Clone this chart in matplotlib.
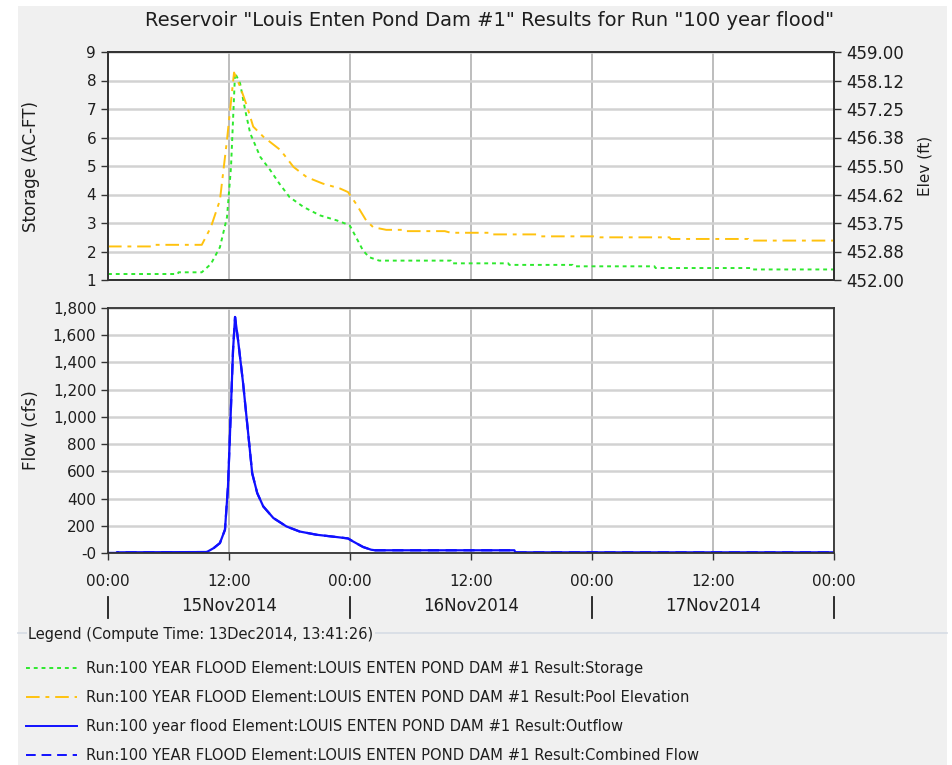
import matplotlib
matplotlib.use("Agg")
import matplotlib.pyplot as plt
from matplotlib.lines import Line2D
from matplotlib.patches import Rectangle
import numpy as np

plt.rcParams['font.family'] = 'DejaVu Sans'

W, H = 952, 765

# hours after 15Nov2014 00:00
storage_hr = [0, 6.9, 7.0, 9.3, 10.2, 11.1, 11.8, 12.2, 12.6, 13.1, 13.6, 14.1, 15.1, 16.1,
              17.0, 18.0, 19.4, 21.0, 22.7, 23.6, 24.0, 24.6, 25.3, 25.9, 26.9, 34.0, 34.1,
              39.7, 39.8, 46.1, 46.2, 54.2, 54.3, 63.8, 63.9, 72]
storage_ac = [1.21, 1.21, 1.27, 1.27, 1.56, 2.15, 3.2, 4.97, 8.26, 7.9, 6.97, 6.15, 5.32, 4.85,
              4.38, 3.91, 3.56, 3.27, 3.09, 2.97, 2.9, 2.5, 2.03, 1.8, 1.68, 1.68, 1.585,
              1.585, 1.53, 1.53, 1.48, 1.48, 1.42, 1.42, 1.37, 1.37]

pool_hr = [0, 4.5, 4.6, 9.3, 10.2, 11.1, 11.8, 12.5, 13.1, 13.8, 14.4, 15.4, 17.1, 18.4, 19.7,
           21.3, 23.0, 23.8, 24.6, 25.6, 26.3, 27.6, 29.2, 29.3, 33.4, 34.0, 37.9, 38.0,
           42.5, 42.8, 48.2, 48.8, 55.7, 55.8, 63.5, 63.6, 72]
pool_ft = [453.03, 453.03, 453.08, 453.08, 453.62, 454.45, 456.30, 458.37, 457.94, 457.32,
           456.71, 456.40, 455.99, 455.47, 455.16, 454.96, 454.81, 454.70, 454.34, 453.83,
           453.62, 453.54, 453.54, 453.50, 453.50, 453.45, 453.45, 453.40, 453.40, 453.34,
           453.34, 453.31, 453.31, 453.26, 453.26, 453.21, 453.21]

outflow_hr = [0, 0.8, 0.9, 9.8, 10.5, 11.1, 11.6, 11.9, 12.1, 12.4, 12.6, 12.9, 13.4, 13.9,
              14.3, 14.8, 15.4, 16.4, 17.7, 19.0, 20.7, 22.7, 23.8, 24.3, 25.3, 26.1, 26.5,
              40.3, 40.4, 72]
outflow_cfs = [0, 0, 5, 7, 37, 73, 171, 488, 880, 1490, 1734, 1563, 1246, 880,
               586, 440, 342, 257, 195, 158, 134, 117, 107, 85, 44, 24, 20,
               20, 5, 5]
combined_cfs = outflow_cfs

storage_ticks = list(range(1, 10))
elev_ticks = np.linspace(452.0, 459.0, 9)
flow_ticks = list(range(0, 2000, 200))
flow_labels = ['-0'] + ['{:,}'.format(v) for v in flow_ticks[1:]]
time_ticks = list(range(0, 73, 12))
time_labels = ['00:00' if t % 24 == 0 else '12:00' for t in time_ticks]
day_labels = ['15Nov2014', '16Nov2014', '17Nov2014']

legend_labels = [
    'Run:100 YEAR FLOOD Element:LOUIS ENTEN POND DAM #1 Result:Storage',
    'Run:100 YEAR FLOOD Element:LOUIS ENTEN POND DAM #1 Result:Pool Elevation',
    'Run:100 year flood Element:LOUIS ENTEN POND DAM #1 Result:Outflow',
    'Run:100 YEAR FLOOD Element:LOUIS ENTEN POND DAM #1 Result:Combined Flow',
]

GREEN = '#2ee82e'
GOLD = '#ffc20e'
BLUE = '#1010ff'
BG = '#f0f0f0'
INK = '#1e1e1e'


def fx(px):
    return px / W


def fy(py):
    return 1 - py / H


fig = plt.figure(figsize=(W / 100, H / 100), dpi=100)
fig.patch.set_facecolor('white')
fig.add_artist(Rectangle((fx(18), 0), fx(947) - fx(18), fy(6), transform=fig.transFigure,
                         facecolor=BG, edgecolor='none', zorder=-10))

x0, x1 = 108, 834
ax1 = fig.add_axes([fx(x0), fy(280), fx(x1) - fx(x0), fy(52) - fy(280)])
ax2 = fig.add_axes([fx(x0), fy(553), fx(x1) - fx(x0), fy(308) - fy(553)])


def style(ax):
    ax.set_xlim(0, 72)
    ax.set_xticks(time_ticks)
    for s in ax.spines.values():
        s.set_color('#333333')
        s.set_linewidth(1.3)
    ax.grid(True, axis='y', color='#d2d2d2', linewidth=1.8)
    ax.grid(True, axis='x', color='#bdbdbd', linewidth=1.4)
    ax.set_axisbelow(True)
    ax.tick_params(direction='out', length=5, width=1, colors='#333333', labelsize=11,
                   labelcolor=INK)


style(ax1)
ax1.set_ylim(1, 9)
ax1.set_yticks(storage_ticks)
ax1.tick_params(axis='x', bottom=False, labelbottom=False)
ax1.set_ylabel('Storage (AC-FT)', fontsize=12, color=INK)
ax1.yaxis.set_label_coords((40 - x0) / (x1 - x0), 0.5)
ax1.plot(storage_hr, storage_ac, color=GREEN, linestyle=(0, (2, 2)), linewidth=1.4)

ax1r = ax1.twinx()
ax1r.set_ylim(452, 459)
ax1r.set_yticks(elev_ticks)
ax1r.set_yticklabels(['%.2f' % v for v in elev_ticks])
ax1r.tick_params(direction='out', length=5, width=1, colors='#333333', labelsize=12,
                 labelcolor=INK)
ax1r.set_ylabel('Elev (ft)', fontsize=11, rotation=90, color=INK)
ax1r.yaxis.set_label_coords((918 - x0) / (x1 - x0), 0.5)
for s in ax1r.spines.values():
    s.set_color('#333333')
    s.set_linewidth(1.3)
ax1r.plot(pool_hr, pool_ft, color=GOLD, linestyle=(0, (7, 3, 2, 3)), linewidth=1.4)

style(ax2)
ax2.set_ylim(0, 1800)
ax2.set_yticks(flow_ticks)
ax2.set_yticklabels(flow_labels)
ax2.set_xticklabels(time_labels)
ax2.tick_params(axis='x', pad=10)
ax2.set_ylabel('Flow (cfs)', fontsize=12, color=INK)
ax2.yaxis.set_label_coords((40 - x0) / (x1 - x0), 0.5)
ax2.plot(outflow_hr, combined_cfs, color=BLUE, linestyle=(0, (5, 3)), linewidth=1.6)
ax2.plot(outflow_hr, outflow_cfs, color=BLUE, linewidth=1.6)

# date row under the time ticks
for d in range(4):
    xp = x0 + (x1 - x0) * d / 3
    fig.add_artist(Line2D([fx(xp), fx(xp)], [fy(597), fy(618)], transform=fig.transFigure,
                          color=INK, linewidth=1.3))
for i, lab in enumerate(day_labels):
    xp = x0 + (x1 - x0) * (i + 0.5) / 3
    fig.text(fx(xp), fy(606), lab, ha='center', va='center', fontsize=12, color=INK)

fig.text(fx(490), fy(21), 'Reservoir "Louis Enten Pond Dam #1" Results for Run "100 year flood"',
         ha='center', va='center', fontsize=14, color=INK)

# legend panel
fig.add_artist(Line2D([fx(18), fx(947)], [fy(633), fy(633)], transform=fig.transFigure,
                      color='#d6dce4', linewidth=1.2))
fig.text(fx(28), fy(634), 'Legend (Compute Time: 13Dec2014, 13:41:26)', ha='left', va='center',
         fontsize=10.5, color=INK,
         bbox=dict(facecolor=BG, edgecolor='none', pad=1))

legend_styles = [
    dict(color=GREEN, linestyle=(0, (2, 2))),
    dict(color=GOLD, linestyle=(0, (7, 3, 2, 3))),
    dict(color=BLUE, linestyle='-'),
    dict(color=BLUE, linestyle=(0, (5, 3))),
]
rows = [668, 697, 726, 755]
for yp, lab, st in zip(rows, legend_labels, legend_styles):
    fig.add_artist(Line2D([fx(26), fx(77)], [fy(yp), fy(yp)], transform=fig.transFigure,
                          linewidth=1.4, **st))
    fig.text(fx(86), fy(yp), lab, ha='left', va='center', fontsize=10.6, color=INK)

fig.savefig('out.png', dpi=100, facecolor=fig.get_facecolor())
